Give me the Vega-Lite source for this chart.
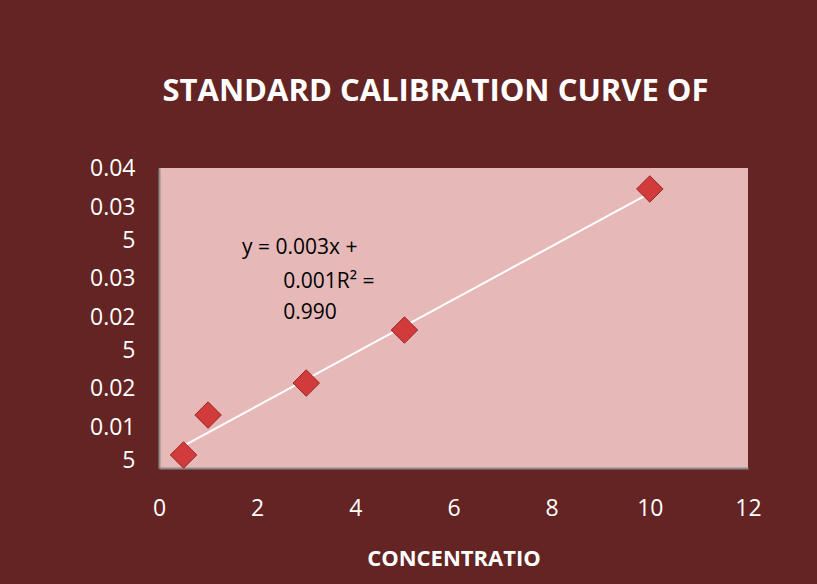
{
  "$schema": "https://vega.github.io/schema/vega-lite/v6.json",
  "width": 589,
  "height": 300,
  "autosize": {"type": "none"},
  "padding": {"left": 159, "top": 168, "right": 69, "bottom": 116},
  "background": "#632423",
  "title": {
    "text": "STANDARD CALIBRATION CURVE OF",
    "font": "Open Sans",
    "fontSize": 31,
    "fontWeight": "bold",
    "color": "white",
    "anchor": "middle",
    "dx": -18,
    "offset": 49
  },
  "config": {
    "view": {"fill": "#E6B9B8", "stroke": null},
    "axis": {"grid": false, "ticks": false, "domainColor": "#8C8C8C", "domainWidth": 2, "labelColor": "white", "labelFont": "Open Sans", "labelFontSize": 23, "titleColor": "white", "titleFont": "Open Sans"}
  },
  "datasets": {
    "points": [
      {"conc": 0.5, "abs": 0.01398},
      {"conc": 1, "abs": 0.0176},
      {"conc": 3, "abs": 0.0205},
      {"conc": 5, "abs": 0.02531},
      {"conc": 10, "abs": 0.0381}
    ],
    "trend": [
      {"conc": 0.5, "abs": 0.0148},
      {"conc": 10, "abs": 0.03773}
    ],
    "eq": [
      {"conc": 1.69, "abs": 0.03275, "t": "y = 0.003x +"},
      {"conc": 2.53, "abs": 0.02966, "t": "0.001R² ="},
      {"conc": 2.53, "abs": 0.02685, "t": "0.990"}
    ]
  },
  "encoding": {
    "x": {
      "field": "conc", "type": "quantitative",
      "scale": {"domain": [0, 12], "nice": false, "zero": false},
      "axis": {"values": [0, 2, 4, 6, 8, 10, 12], "title": "CONCENTRATIO", "titleFontSize": 22, "titleFontWeight": "bold", "titlePadding": 28, "labelPadding": 29, "labelFlush": false}
    },
    "y": {
      "field": "abs", "type": "quantitative",
      "scale": {"domain": [0.0128, 0.04], "nice": false, "zero": false},
      "axis": {
        "values": [0.015, 0.02, 0.025, 0.03, 0.035, 0.04],
        "title": null,
        "labelPadding": 24,
        "labelLineHeight": 33,
        "labelFlush": false,
        "labelOffset": {"condition": {"test": "(datum.value > 0.0349 && datum.value < 0.0351) || (datum.value > 0.0249 && datum.value < 0.0251) || datum.value < 0.0151", "value": -16}, "value": 0},
        "labelExpr": "datum.value > 0.0349 && datum.value < 0.0351 ? ['0.03','5'] : datum.value > 0.0249 && datum.value < 0.0251 ? ['0.02','5'] : datum.value < 0.0151 ? ['0.01','5'] : format(datum.value, '.2f')"
      }
    }
  },
  "layer": [
    {
      "data": {"name": "trend"},
      "mark": {"type": "line", "color": "white", "strokeWidth": 2}
    },
    {
      "data": {"name": "points"},
      "mark": {"type": "point", "shape": "diamond", "filled": true, "size": 700, "fill": "#D23B3B", "stroke": "#9A2426", "strokeWidth": 1, "opacity": 1}
    },
    {
      "data": {"name": "eq"},
      "mark": {"type": "text", "align": "left", "baseline": "middle", "font": "Open Sans", "fontSize": 21, "color": "black"},
      "encoding": {"text": {"field": "t", "type": "nominal"}}
    }
  ]
}
